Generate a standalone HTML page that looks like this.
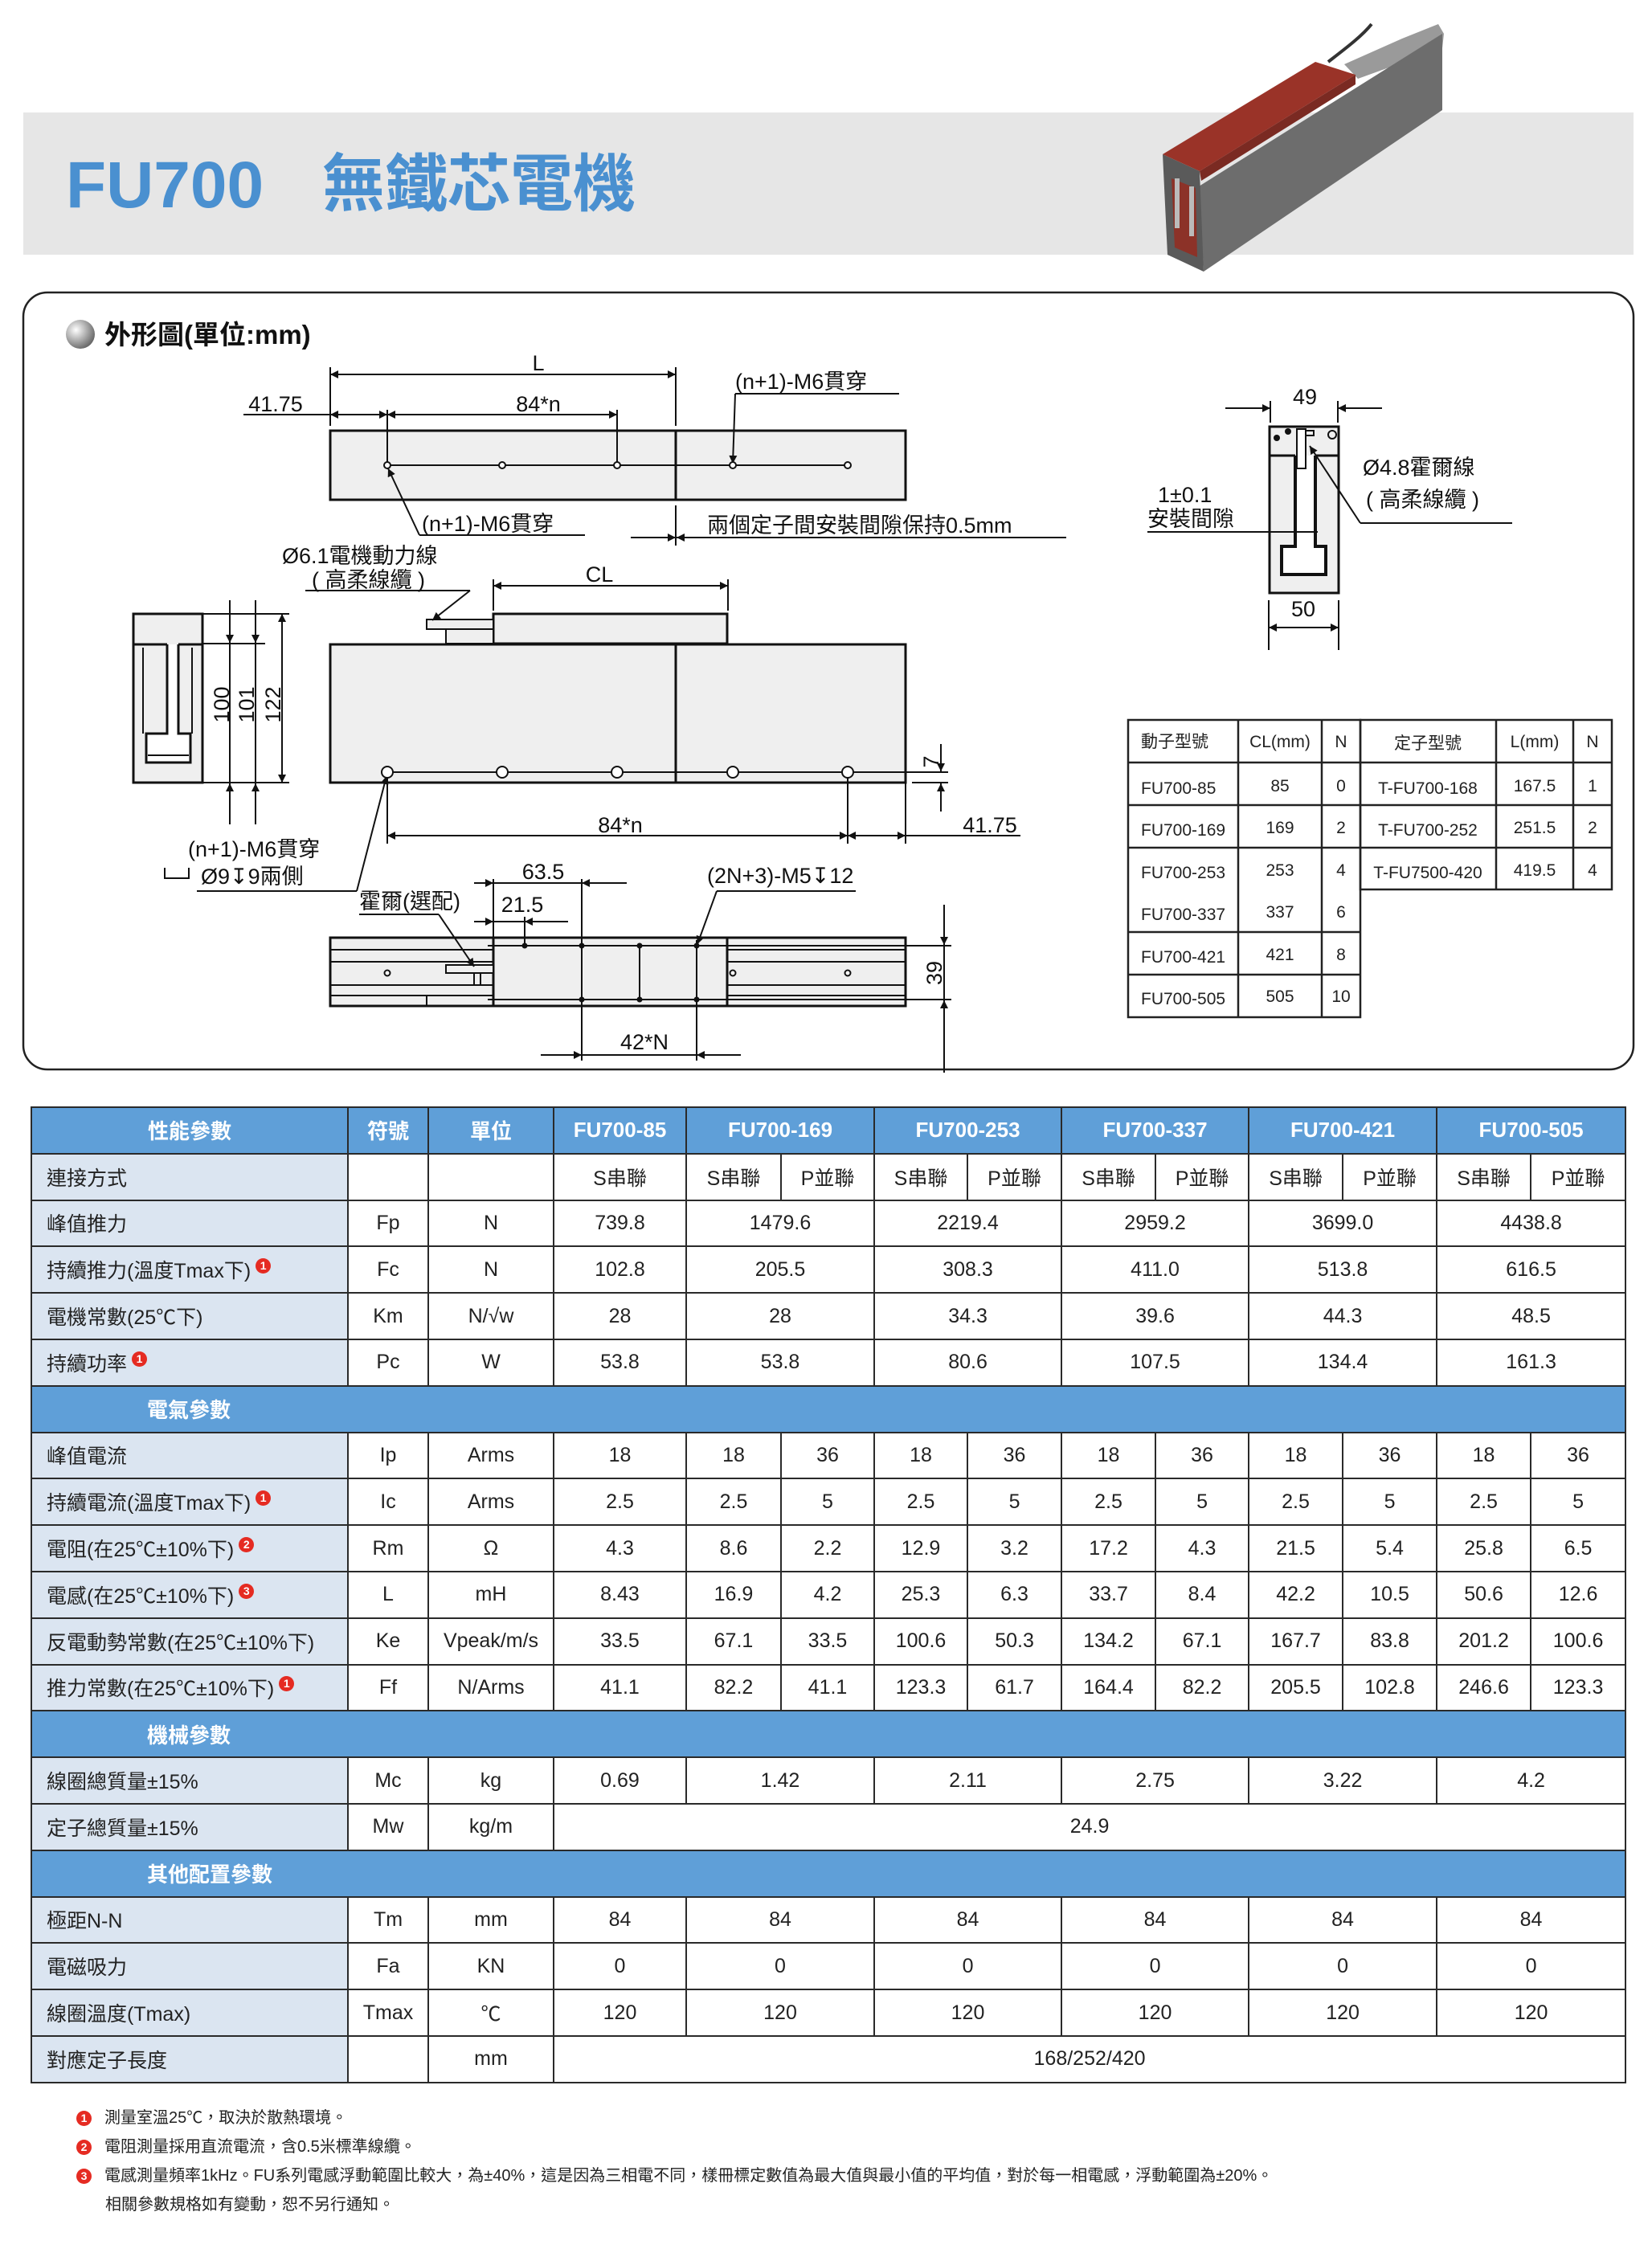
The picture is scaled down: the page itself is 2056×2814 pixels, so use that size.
<!DOCTYPE html>
<html><head><meta charset="utf-8"><style>
body{margin:0;width:2056px;height:2814px;background:#fff;position:relative;overflow:hidden;font-family:"Liberation Sans","Noto Sans CJK TC",sans-serif;}
svg{position:absolute;left:0;top:0}
table{position:absolute;left:38px;top:1377px;border-collapse:collapse;table-layout:fixed;width:1984px;font-size:25px;color:#222}
td{border:2.5px solid #2a2a2a;text-align:center;height:55.8px;padding:0;white-space:nowrap;overflow:hidden}
td.l{background:#dbe5f1;text-align:left;padding-left:18px}
tr.h td{background:#5f9fd8;color:#fff;font-weight:bold;font-size:26px}
tr.s td{background:#5f9fd8;color:#fff;font-weight:bold;font-size:26px;text-align:left;padding-left:143px}
.b{display:inline-block;width:19px;height:19px;border-radius:50%;background:#e52b22;color:#fff;font-size:14px;line-height:19px;text-align:center;vertical-align:10px;margin-left:6px;font-weight:bold}
.fn{position:absolute;left:95px;font-size:20px;color:#222}
.fn .b{vertical-align:1px;margin:0 16px 0 0}
</style></head><body>
<svg width="2056" height="1400" viewBox="0 0 2056 1400" font-family="Liberation Sans, Noto Sans CJK TC, sans-serif">
<defs>
<marker id="a" viewBox="0 0 10 10" refX="10" refY="5" markerWidth="26" markerHeight="10" markerUnits="userSpaceOnUse" orient="auto-start-reverse"><path d="M0,0L10,5L0,10z" fill="#111"/></marker>
<radialGradient id="g" cx="35%" cy="35%" r="70%"><stop offset="0" stop-color="#fff"/><stop offset="1" stop-color="#666"/></radialGradient>
</defs>
<rect x="29" y="140" width="2004" height="177" fill="#e6e6e6"/>
<text x="82" y="258" font-size="82" font-weight="bold" fill="#4a90d0">FU700</text>
<text x="401" y="256" font-size="78" font-weight="bold" fill="#4a90d0">無鐵芯電機</text>
<path d="M1653,77 C1675,60 1695,45 1707,30" stroke="#333" stroke-width="4" fill="none"/>
<polygon points="1673,80 1745,48 1790,30 1797,42 1795,60 1690,98" fill="#9a9a9a"/>
<polygon points="1492,232 1795,42 1795,137 1498,338" fill="#6d6d6d"/>
<polygon points="1447,192 1493,213 1498,338 1453,317" fill="#5a5a5a"/>
<polygon points="1458,222 1488,234 1490,320 1462,308" fill="#8c3228"/>
<rect x="1462" y="222" width="6" height="62" fill="#bbb"/><rect x="1480" y="232" width="6" height="62" fill="#bbb"/>
<polygon points="1447,192 1637,77 1687,93 1493,213" fill="#9a3328"/>
<polygon points="1493,213 1687,93 1687,105 1495,225" fill="#7a2a22"/>
<rect x="29" y="364" width="2004" height="967" rx="30" fill="none" stroke="#222" stroke-width="2.5"/>
<circle cx="100" cy="416" r="18" fill="url(#g)"/>
<text x="130" y="428" font-size="33" font-weight="bold" fill="#111">外形圖(單位:mm)</text>
<g stroke="#111" stroke-width="2" fill="none">
<rect x="411" y="536" width="716" height="86" fill="#efefef" stroke-width="3"/>
<line x1="841" y1="536" x2="841" y2="622" stroke-width="3"/>
<line x1="482" y1="579" x2="1055" y2="579"/>
<line x1="411" y1="457" x2="411" y2="530"/><line x1="841" y1="457" x2="841" y2="530"/>
<line x1="482" y1="510" x2="482" y2="579"/><line x1="768" y1="510" x2="768" y2="579"/>
<line x1="411" y1="466" x2="841" y2="466" marker-start="url(#a)" marker-end="url(#a)"/>
<line x1="303" y1="516" x2="411" y2="516"/>
<line x1="411" y1="516" x2="482" y2="516" marker-start="url(#a)" marker-end="url(#a)"/>
<line x1="482" y1="516" x2="768" y2="516" marker-start="url(#a)" marker-end="url(#a)"/>
<polyline points="1119,490 915,490"/><line x1="915" y1="490" x2="912" y2="577" marker-end="url(#a)"/>
<polyline points="728,666 522,666"/><line x1="522" y1="666" x2="483" y2="583" marker-end="url(#a)"/>
<line x1="841" y1="629" x2="841" y2="679"/>
<line x1="785" y1="669" x2="841" y2="669" marker-end="url(#a)"/>
<line x1="1327" y1="669" x2="841" y2="669"/>
<line x1="890" y1="669" x2="842" y2="669" marker-end="url(#a)"/>
<rect x="614" y="764" width="291" height="37" fill="#efefef" stroke-width="3"/>
<rect x="531" y="771" width="83" height="12" fill="#efefef"/>
<rect x="555" y="783" width="59" height="18" fill="#efefef"/>
<rect x="411" y="802" width="716" height="172" fill="#efefef" stroke-width="3"/>
<line x1="841" y1="802" x2="841" y2="974" stroke-width="3"/>
<line x1="482" y1="961" x2="1127" y2="961"/>
<line x1="614" y1="721" x2="614" y2="760"/><line x1="906" y1="721" x2="906" y2="760"/>
<line x1="614" y1="729" x2="906" y2="729" marker-start="url(#a)" marker-end="url(#a)"/>
<polyline points="380,735 585,735"/><line x1="585" y1="735" x2="538" y2="772" marker-end="url(#a)"/>
<rect x="166" y="764" width="86" height="210" fill="#efefef" stroke-width="3"/>
<line x1="166" y1="802" x2="208" y2="802" stroke-width="3"/><line x1="222" y1="802" x2="252" y2="802" stroke-width="3"/>
<path d="M208,802V913H182V949H237V913H222V802" stroke-width="3" fill="#fff"/>
<line x1="178" y1="806" x2="178" y2="913"/><line x1="239" y1="806" x2="239" y2="913"/>
<line x1="184" y1="940" x2="235" y2="940"/>
<line x1="252" y1="764" x2="360" y2="764"/><line x1="252" y1="801" x2="330" y2="801"/><line x1="252" y1="974" x2="360" y2="974"/>
<line x1="286" y1="747" x2="286" y2="800" marker-end="url(#a)"/><line x1="286" y1="1026" x2="286" y2="975" marker-end="url(#a)"/>
<line x1="318" y1="747" x2="318" y2="800" marker-end="url(#a)"/><line x1="318" y1="1026" x2="318" y2="975" marker-end="url(#a)"/>
<line x1="286" y1="801" x2="286" y2="974"/><line x1="318" y1="801" x2="318" y2="974"/>
<line x1="351" y1="764" x2="351" y2="974" marker-start="url(#a)" marker-end="url(#a)"/>
<line x1="1127" y1="961" x2="1180" y2="961"/><line x1="1135" y1="974" x2="1180" y2="974"/>
<line x1="1171" y1="926" x2="1171" y2="960" marker-end="url(#a)"/><line x1="1171" y1="1010" x2="1171" y2="975" marker-end="url(#a)"/>
<line x1="482" y1="961" x2="482" y2="1050"/><line x1="1055" y1="961" x2="1055" y2="1050"/><line x1="1127" y1="974" x2="1127" y2="1050"/>
<line x1="482" y1="1040" x2="1055" y2="1040" marker-start="url(#a)" marker-end="url(#a)"/>
<line x1="1055" y1="1040" x2="1127" y2="1040" marker-start="url(#a)" marker-end="url(#a)"/>
<line x1="1127" y1="1040" x2="1270" y2="1040"/>
<polyline points="245,1109 444,1109"/><line x1="444" y1="1109" x2="481" y2="966" marker-end="url(#a)"/>
<path d="M205,1080V1093H235V1080"/>
<rect x="411" y="1167" width="716" height="85" fill="#efefef" stroke-width="3"/>
<line x1="411" y1="1182" x2="1127" y2="1182"/><line x1="411" y1="1197" x2="1127" y2="1197"/>
<line x1="411" y1="1226" x2="1127" y2="1226"/><line x1="411" y1="1239" x2="1127" y2="1239"/>
<rect x="614" y="1167" width="291" height="85" fill="#efefef" stroke-width="3"/>
<line x1="531" y1="1239" x2="531" y2="1252"/>
<rect x="555" y="1201" width="59" height="10" fill="#efefef"/>
<rect x="590" y="1211" width="8" height="15" fill="#efefef"/>
<line x1="607" y1="1177" x2="1184" y2="1177"/><line x1="607" y1="1244" x2="1184" y2="1244"/>
<line x1="796" y1="1177" x2="796" y2="1244"/>
<line x1="724" y1="1094" x2="724" y2="1320"/><line x1="867" y1="1170" x2="867" y2="1320"/>
<line x1="653" y1="1141" x2="653" y2="1177"/>
<line x1="614" y1="1094" x2="614" y2="1167"/>
<line x1="590" y1="1099" x2="614" y2="1099" marker-end="url(#a)"/><line x1="614" y1="1099" x2="724" y2="1099"/><line x1="780" y1="1099" x2="724" y2="1099" marker-end="url(#a)"/>
<line x1="590" y1="1147" x2="614" y2="1147" marker-end="url(#a)"/><line x1="614" y1="1147" x2="653" y2="1147"/><line x1="707" y1="1147" x2="653" y2="1147" marker-end="url(#a)"/>
<polyline points="447,1138 546,1138"/><line x1="546" y1="1138" x2="590" y2="1203" marker-end="url(#a)"/>
<polyline points="1065,1109 892,1109"/><line x1="892" y1="1109" x2="868" y2="1175" marker-end="url(#a)"/>
<line x1="1175" y1="1126" x2="1175" y2="1176" marker-end="url(#a)"/><line x1="1175" y1="1335" x2="1175" y2="1245" marker-end="url(#a)"/>
<line x1="1175" y1="1177" x2="1175" y2="1244"/>
<line x1="673" y1="1313" x2="724" y2="1313" marker-end="url(#a)"/><line x1="724" y1="1313" x2="867" y2="1313"/><line x1="922" y1="1313" x2="867" y2="1313" marker-end="url(#a)"/>
<rect x="1580" y="531" width="86" height="207" fill="#efefef" stroke-width="3"/>
<line x1="1580" y1="567" x2="1612" y2="567" stroke-width="3"/><line x1="1637" y1="567" x2="1666" y2="567" stroke-width="3"/>
<path d="M1612,567V680H1595V715H1650V680H1637V567" stroke-width="4" fill="#fff"/>
<rect x="1614" y="534" width="11" height="49" fill="#fff"/>
<rect x="1625" y="536" width="10" height="6"/>
<circle cx="1658" cy="541" r="5"/>
<line x1="1581" y1="499" x2="1581" y2="526"/><line x1="1665" y1="499" x2="1665" y2="526"/>
<line x1="1525" y1="508" x2="1581" y2="508" marker-end="url(#a)"/><line x1="1720" y1="508" x2="1665" y2="508" marker-end="url(#a)"/>
<line x1="1579" y1="747" x2="1579" y2="809"/><line x1="1666" y1="747" x2="1666" y2="809"/>
<line x1="1579" y1="781" x2="1666" y2="781" marker-start="url(#a)" marker-end="url(#a)"/>
<polyline points="1882,651 1693,651"/><line x1="1693" y1="651" x2="1630" y2="555" marker-end="url(#a)"/>
<line x1="1428" y1="662" x2="1640" y2="662"/>
</g>
<g fill="#111">
<circle cx="1589" cy="545" r="4"/><circle cx="1603" cy="537" r="4"/>
<g stroke="#111" stroke-width="2" fill="#fff">
<circle cx="482" cy="579" r="4"/><circle cx="625" cy="579" r="4"/><circle cx="768" cy="579" r="4"/><circle cx="912" cy="579" r="4"/><circle cx="1055" cy="579" r="4"/>
<circle cx="482" cy="961" r="7"/><circle cx="625" cy="961" r="7"/><circle cx="768" cy="961" r="7"/><circle cx="912" cy="961" r="7"/><circle cx="1055" cy="961" r="7"/>
<circle cx="482" cy="1211" r="3.5"/><circle cx="912" cy="1211" r="3.5"/><circle cx="1055" cy="1211" r="3.5"/>
</g>
<circle cx="653" cy="1177" r="3.5"/><circle cx="724" cy="1177" r="3.5"/><circle cx="796" cy="1177" r="3.5"/><circle cx="867" cy="1177" r="3.5"/>
<circle cx="724" cy="1244" r="3.5"/><circle cx="796" cy="1244" r="3.5"/><circle cx="867" cy="1244" r="3.5"/>
</g>
<g font-size="27" fill="#111">
<text x="670" y="461" text-anchor="middle">L</text>
<text x="343" y="512" text-anchor="middle">41.75</text>
<text x="670" y="512" text-anchor="middle">84*n</text>
<text x="915" y="484">(n+1)-M6貫穿</text>
<text x="525" y="661">(n+1)-M6貫穿</text>
<text x="880" y="663">兩個定子間安裝間隙保持0.5mm</text>
<text x="351" y="701">Ø6.1電機動力線</text>
<text x="388" y="731">( 高柔線纜 )</text>
<text x="746" y="724" text-anchor="middle">CL</text>
<text transform="translate(285,877) rotate(-90)" text-anchor="middle">100</text>
<text transform="translate(316,877) rotate(-90)" text-anchor="middle">101</text>
<text transform="translate(349,877) rotate(-90)" text-anchor="middle">122</text>
<text transform="translate(1168,948) rotate(-90)" text-anchor="middle">7</text>
<text x="772" y="1036" text-anchor="middle">84*n</text>
<text x="1232" y="1036" text-anchor="middle">41.75</text>
<text x="234" y="1066">(n+1)-M6貫穿</text>
<text x="250" y="1100">Ø9↧9兩側</text>
<text x="676" y="1094" text-anchor="middle">63.5</text>
<text x="650" y="1135" text-anchor="middle">21.5</text>
<text x="447" y="1131">霍爾(選配)</text>
<text x="880" y="1099">(2N+3)-M5↧12</text>
<text transform="translate(1172,1211) rotate(-90)" text-anchor="middle">39</text>
<text x="802" y="1306" text-anchor="middle">42*N</text>
<text x="1624" y="503" text-anchor="middle">49</text>
<text x="1622" y="767" text-anchor="middle">50</text>
<text x="1696" y="591">Ø4.8霍爾線</text>
<text x="1700" y="631">( 高柔線纜 )</text>
<text x="1441" y="625">1±0.1</text>
<text x="1428" y="655">安裝間隙</text>
</g>
<g stroke="#222" stroke-width="2.5" fill="none">
<rect x="1404" y="896" width="289" height="370"/>
<rect x="1693" y="896" width="313" height="211"/>
<line x1="1541" y1="896" x2="1541" y2="1266"/><line x1="1645" y1="896" x2="1645" y2="1266"/>
<line x1="1862" y1="896" x2="1862" y2="1107"/><line x1="1958" y1="896" x2="1958" y2="1107"/>
<line x1="1404" y1="949" x2="2006" y2="949"/><line x1="1404" y1="1002" x2="2006" y2="1002"/><line x1="1404" y1="1055" x2="2006" y2="1055"/>
<line x1="1404" y1="1160" x2="1693" y2="1160"/><line x1="1404" y1="1213" x2="1693" y2="1213"/>
</g>
<g font-size="21" fill="#222" text-anchor="middle">
<text x="1420" y="930" text-anchor="start">動子型號</text><text x="1593" y="930">CL(mm)</text><text x="1669" y="930">N</text><text x="1777" y="932">定子型號</text><text x="1910" y="930">L(mm)</text><text x="1982" y="930">N</text>
<text x="1420" y="988" text-anchor="start">FU700-85</text><text x="1593" y="985">85</text><text x="1669" y="985">0</text><text x="1777" y="988">T-FU700-168</text><text x="1910" y="985">167.5</text><text x="1982" y="985">1</text>
<text x="1420" y="1040" text-anchor="start">FU700-169</text><text x="1593" y="1037">169</text><text x="1669" y="1037">2</text><text x="1777" y="1040">T-FU700-252</text><text x="1910" y="1037">251.5</text><text x="1982" y="1037">2</text>
<text x="1420" y="1093" text-anchor="start">FU700-253</text><text x="1593" y="1090">253</text><text x="1669" y="1090">4</text><text x="1777" y="1093">T-FU7500-420</text><text x="1910" y="1090">419.5</text><text x="1982" y="1090">4</text>
<text x="1420" y="1145" text-anchor="start">FU700-337</text><text x="1593" y="1142">337</text><text x="1669" y="1142">6</text>
<text x="1420" y="1198" text-anchor="start">FU700-421</text><text x="1593" y="1195">421</text><text x="1669" y="1195">8</text>
<text x="1420" y="1250" text-anchor="start">FU700-505</text><text x="1593" y="1247">505</text><text x="1669" y="1247">10</text>
</g>
</svg>

<table>
<colgroup><col style="width:394px"><col style="width:100px"><col style="width:156px"><col style="width:165px"><col style="width:118px"><col style="width:116px"><col style="width:116px"><col style="width:117px"><col style="width:117px"><col style="width:116px"><col style="width:117px"><col style="width:117px"><col style="width:117px"><col style="width:118px"></colgroup>
<tr class="h"><td>性能參數</td><td>符號</td><td>單位</td><td>FU700-85</td><td colspan="2">FU700-169</td><td colspan="2">FU700-253</td><td colspan="2">FU700-337</td><td colspan="2">FU700-421</td><td colspan="2">FU700-505</td></tr>
<tr><td class="l">連接方式</td><td></td><td></td><td>S串聯</td><td>S串聯</td><td>P並聯</td><td>S串聯</td><td>P並聯</td><td>S串聯</td><td>P並聯</td><td>S串聯</td><td>P並聯</td><td>S串聯</td><td>P並聯</td></tr>
<tr><td class="l">峰值推力</td><td>Fp</td><td>N</td><td>739.8</td><td colspan="2">1479.6</td><td colspan="2">2219.4</td><td colspan="2">2959.2</td><td colspan="2">3699.0</td><td colspan="2">4438.8</td></tr>
<tr><td class="l">持續推力(溫度Tmax下)<span class="b">1</span></td><td>Fc</td><td>N</td><td>102.8</td><td colspan="2">205.5</td><td colspan="2">308.3</td><td colspan="2">411.0</td><td colspan="2">513.8</td><td colspan="2">616.5</td></tr>
<tr><td class="l">電機常數(25℃下)</td><td>Km</td><td>N/√w</td><td>28</td><td colspan="2">28</td><td colspan="2">34.3</td><td colspan="2">39.6</td><td colspan="2">44.3</td><td colspan="2">48.5</td></tr>
<tr><td class="l">持續功率<span class="b">1</span></td><td>Pc</td><td>W</td><td>53.8</td><td colspan="2">53.8</td><td colspan="2">80.6</td><td colspan="2">107.5</td><td colspan="2">134.4</td><td colspan="2">161.3</td></tr>
<tr class="s"><td colspan="14">電氣參數</td></tr>
<tr><td class="l">峰值電流</td><td>Ip</td><td>Arms</td><td>18</td><td>18</td><td>36</td><td>18</td><td>36</td><td>18</td><td>36</td><td>18</td><td>36</td><td>18</td><td>36</td></tr>
<tr><td class="l">持續電流(溫度Tmax下)<span class="b">1</span></td><td>Ic</td><td>Arms</td><td>2.5</td><td>2.5</td><td>5</td><td>2.5</td><td>5</td><td>2.5</td><td>5</td><td>2.5</td><td>5</td><td>2.5</td><td>5</td></tr>
<tr><td class="l">電阻(在25℃±10%下)<span class="b">2</span></td><td>Rm</td><td>Ω</td><td>4.3</td><td>8.6</td><td>2.2</td><td>12.9</td><td>3.2</td><td>17.2</td><td>4.3</td><td>21.5</td><td>5.4</td><td>25.8</td><td>6.5</td></tr>
<tr><td class="l">電感(在25℃±10%下)<span class="b">3</span></td><td>L</td><td>mH</td><td>8.43</td><td>16.9</td><td>4.2</td><td>25.3</td><td>6.3</td><td>33.7</td><td>8.4</td><td>42.2</td><td>10.5</td><td>50.6</td><td>12.6</td></tr>
<tr><td class="l">反電動勢常數(在25℃±10%下)</td><td>Ke</td><td>Vpeak/m/s</td><td>33.5</td><td>67.1</td><td>33.5</td><td>100.6</td><td>50.3</td><td>134.2</td><td>67.1</td><td>167.7</td><td>83.8</td><td>201.2</td><td>100.6</td></tr>
<tr><td class="l">推力常數(在25℃±10%下)<span class="b">1</span></td><td>Ff</td><td>N/Arms</td><td>41.1</td><td>82.2</td><td>41.1</td><td>123.3</td><td>61.7</td><td>164.4</td><td>82.2</td><td>205.5</td><td>102.8</td><td>246.6</td><td>123.3</td></tr>
<tr class="s"><td colspan="14">機械參數</td></tr>
<tr><td class="l">線圈總質量±15%</td><td>Mc</td><td>kg</td><td>0.69</td><td colspan="2">1.42</td><td colspan="2">2.11</td><td colspan="2">2.75</td><td colspan="2">3.22</td><td colspan="2">4.2</td></tr>
<tr><td class="l">定子總質量±15%</td><td>Mw</td><td>kg/m</td><td colspan="11">24.9</td></tr>
<tr class="s"><td colspan="14">其他配置參數</td></tr>
<tr><td class="l">極距N-N</td><td>Tm</td><td>mm</td><td>84</td><td colspan="2">84</td><td colspan="2">84</td><td colspan="2">84</td><td colspan="2">84</td><td colspan="2">84</td></tr>
<tr><td class="l">電磁吸力</td><td>Fa</td><td>KN</td><td>0</td><td colspan="2">0</td><td colspan="2">0</td><td colspan="2">0</td><td colspan="2">0</td><td colspan="2">0</td></tr>
<tr><td class="l">線圈溫度(Tmax)</td><td>Tmax</td><td>℃</td><td>120</td><td colspan="2">120</td><td colspan="2">120</td><td colspan="2">120</td><td colspan="2">120</td><td colspan="2">120</td></tr>
<tr><td class="l">對應定子長度</td><td></td><td>mm</td><td colspan="11">168/252/420</td></tr>
</table>

<div class="fn" style="top:2619px"><span class="b">1</span>測量室溫25℃，取決於散熱環境。</div>
<div class="fn" style="top:2655px"><span class="b">2</span>電阻測量採用直流電流，含0.5米標準線纜。</div>
<div class="fn" style="top:2691px"><span class="b">3</span>電感測量頻率1kHz。FU系列電感浮動範圍比較大，為±40%，這是因為三相電不同，樣冊標定數值為最大值與最小值的平均值，對於每一相電感，浮動範圍為±20%。</div>
<div class="fn" style="top:2727px;left:131px">相關參數規格如有變動，恕不另行通知。</div>
</body></html>
